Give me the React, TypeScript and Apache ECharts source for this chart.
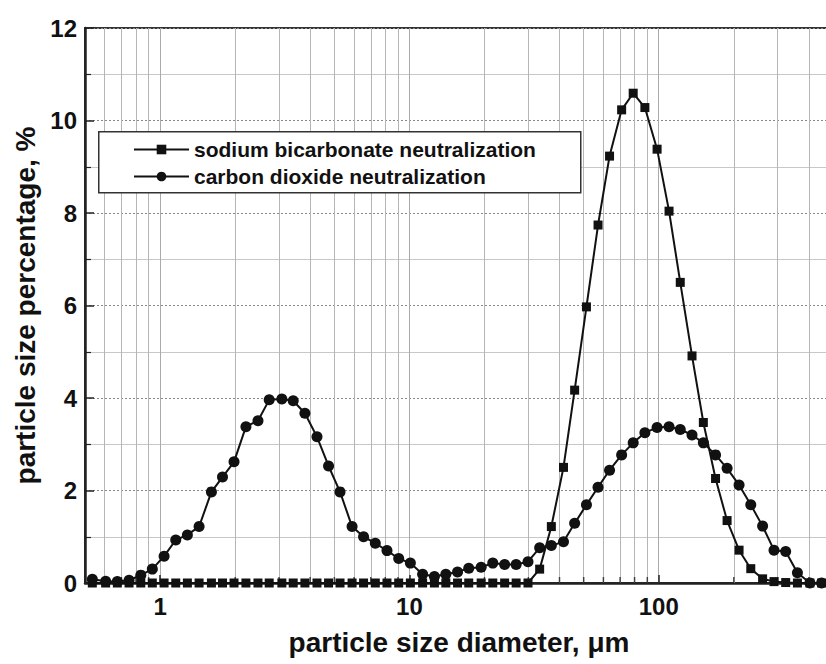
import React, { useEffect, useRef } from "react";
import * as echarts from "echarts";

// particle size classes (µm)
const DIAMETERS = [
  0.535, 0.605, 0.674, 0.751, 0.837, 0.931, 1.038, 1.156, 1.287, 1.434,
  1.607, 1.78, 1.98, 2.21, 2.47, 2.74, 3.08, 3.42, 3.81, 4.26,
  4.74, 5.27, 5.89, 6.55, 7.3, 8.13, 9.06, 10.09, 11.3, 12.6,
  14.0, 15.6, 17.3, 19.4, 21.6, 24.1, 26.8, 29.9, 33.3, 37.1,
  41.5, 46.0, 51.3, 57.1, 63.5, 71.0, 79.0, 88.0, 98.5, 110,
  122, 136, 151, 169, 188, 210, 234, 261, 290, 323,
  360, 404, 450,
];

const SODIUM_BICARBONATE = [
  0, 0, 0, 0, 0, 0, 0, 0, 0, 0,
  0, 0, 0, 0, 0, 0, 0, 0, 0, 0,
  0, 0, 0, 0, 0, 0, 0, 0, 0, 0,
  0, 0, 0, 0, 0, 0, 0, 0, 0.3, 1.22,
  2.5, 4.17, 5.97, 7.74, 9.23, 10.23, 10.59, 10.28, 9.38, 8.04,
  6.5, 4.91, 3.47, 2.26, 1.35, 0.71, 0.31, 0.09, 0.03, 0.01,
  0, 0, 0,
];

const CARBON_DIOXIDE = [
  0.08, 0.04, 0.03, 0.06, 0.17, 0.3, 0.58, 0.93, 1.04, 1.22,
  1.97, 2.29, 2.62, 3.38, 3.51, 3.96, 3.98, 3.94, 3.67, 3.16,
  2.53, 1.97, 1.22, 1.0, 0.86, 0.7, 0.53, 0.43, 0.19, 0.14,
  0.19, 0.24, 0.32, 0.34, 0.43, 0.4, 0.4, 0.46, 0.76, 0.81,
  0.89, 1.29, 1.69, 2.07, 2.44, 2.77, 3.03, 3.25, 3.36, 3.38,
  3.32, 3.2, 3.03, 2.77, 2.48, 2.12, 1.69, 1.23, 0.71, 0.68,
  0.22, 0, 0,
];

const X_MINOR_GRID = [
  0.6, 0.7, 0.8, 0.9,
  2, 3, 4, 5, 6, 7, 8, 9,
  20, 30, 40, 50, 60, 70, 80, 90,
  200, 300, 400,
];

const SERIES_NAMES = [
  "sodium bicarbonate neutralization",
  "carbon dioxide neutralization",
];
const X_TITLE = "particle size diameter, \u03bcm";
const Y_TITLE = "particle size percentage, %";

const FONT = "'Liberation Sans', Arial, Helvetica, sans-serif";

export default function App() {
  const ref = useRef<HTMLDivElement>(null);

  useEffect(() => {
    if (!ref.current) return;
    const chart = echarts.init(ref.current, undefined, { renderer: "svg" });

    const toPairs = (ys: number[]) => DIAMETERS.map((x, i) => [x, ys[i]]);

    chart.setOption({
      animation: false,
      backgroundColor: "#ffffff",
      textStyle: { fontFamily: FONT },
      grid: {
        left: 85,
        top: 28,
        width: 748,
        height: 555,
        outerBoundsMode: "none",
        containLabel: false,
        show: true,
        borderColor: "#333",
        borderWidth: 2,
        backgroundColor: "transparent",
      },
      legend: {
        orient: "vertical",
        left: 133,
        top: 139,
        padding: 0,
        itemGap: 6,
        itemWidth: 55,
        itemHeight: 12,
        z: 20,
        data: SERIES_NAMES,
        textStyle: {
          fontFamily: FONT,
          fontWeight: "bold",
          fontSize: 21,
          color: "#111",
        },
      },
      graphic: [
        {
          type: "rect",
          left: 98,
          top: 131,
          z: 6,
          shape: { width: 482, height: 61 },
          style: { fill: "#fff", stroke: "#333", lineWidth: 1.5 },
        },
      ],
      xAxis: {
        type: "log",
        logBase: 10,
        min: 0.5,
        max: 500,
        name: X_TITLE,
        nameLocation: "middle",
        nameGap: 45,
        nameTextStyle: {
          fontFamily: FONT,
          fontWeight: "bold",
          fontSize: 28,
          color: "#111",
        },
        axisLine: { show: true, lineStyle: { color: "#222", width: 2.5 } },
        axisTick: { show: true, inside: true, length: 8, lineStyle: { color: "#222", width: 1.5 } },
        axisLabel: {
          showMinLabel: false,
          showMaxLabel: false,
          margin: 11,
          fontFamily: FONT,
          fontWeight: "bold",
          fontSize: 24,
          color: "#111",
        },
        splitLine: { show: true, lineStyle: { color: "#aaa", width: 1, type: "solid" } },
      },
      yAxis: {
        type: "value",
        min: 0,
        max: 12,
        interval: 2,
        name: Y_TITLE,
        nameLocation: "middle",
        nameGap: 44,
        nameTextStyle: {
          fontFamily: FONT,
          fontWeight: "bold",
          fontSize: 28,
          color: "#111",
        },
        axisLine: { show: true, lineStyle: { color: "#222", width: 2.5 } },
        axisTick: { show: true, inside: true, length: 9, lineStyle: { color: "#222", width: 1.5 } },
        minorTick: { show: true, splitNumber: 2, length: 6, lineStyle: { color: "#222", width: 1.2 } },
        axisLabel: {
          margin: 8,
          fontFamily: FONT,
          fontWeight: "bold",
          fontSize: 24,
          color: "#111",
        },
        splitLine: { show: true, lineStyle: { color: "#888", width: 1, type: [2, 2] } },
        minorSplitLine: { show: true, lineStyle: { color: "#c8c8c8", width: 1 } },
      },
      series: [
        {
          name: "minor-ticks",
          type: "scatter",
          silent: true,
          z: 1,
          symbol: "rect",
          symbolSize: [1.5, 6],
          symbolOffset: [0, -3],
          itemStyle: { color: "#222" },
          data: X_MINOR_GRID.map((x) => [x, 0]),
          markLine: {
            silent: true,
            z: 1,
            symbol: ["none", "none"],
            label: { show: false },
            lineStyle: { color: "#b5b5b5", width: 1, type: "solid" },
            data: X_MINOR_GRID.map((x) => ({ xAxis: x })),
          },
        },
        {
          name: SERIES_NAMES[0],
          type: "line",
          z: 3,
          symbol: "rect",
          symbolSize: 9,
          data: toPairs(SODIUM_BICARBONATE),
          lineStyle: { color: "#111", width: 2 },
          itemStyle: { color: "#111" },
        },
        {
          name: SERIES_NAMES[1],
          type: "line",
          z: 4,
          symbol: "circle",
          symbolSize: 11,
          data: toPairs(CARBON_DIOXIDE),
          lineStyle: { color: "#111", width: 2 },
          itemStyle: { color: "#111" },
        },
      ],
    });

    return () => chart.dispose();
  }, []);

  return (
    <div
      ref={ref}
      style={{ position: "fixed", left: 0, top: 0, width: 826, height: 664, background: "#fff" }}
    />
  );
}
